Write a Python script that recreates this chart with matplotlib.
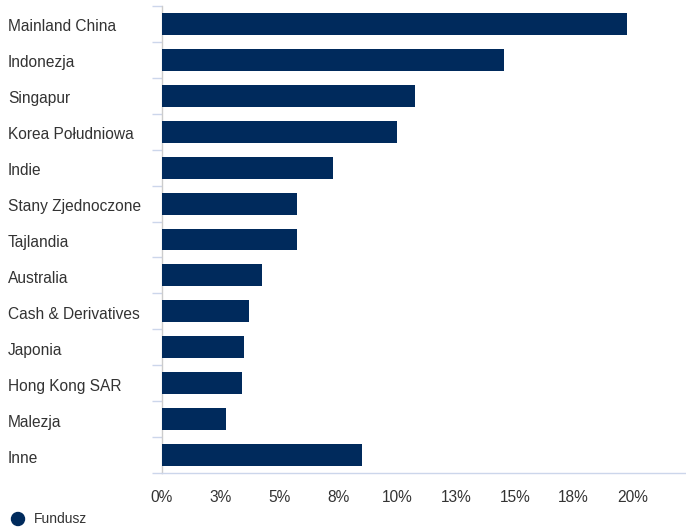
import numpy as np
import matplotlib
matplotlib.use("Agg")
import matplotlib.pyplot as plt
import matplotlib.transforms as mtransforms
from matplotlib.ticker import FixedLocator, FuncFormatter

plt.rcParams['font.family'] = ['Liberation Sans', 'DejaVu Sans']

# data
countries = ["Mainland China", "Indonezja", "Singapur", "Korea Południowa", "Indie",
             "Stany Zjednoczone", "Tajlandia", "Australia", "Cash & Derivatives",
             "Japonia", "Hong Kong SAR", "Malezja", "Inne"]
weights = [19.75, 14.53, 10.76, 9.99, 7.28, 5.75, 5.75, 4.26, 3.71, 3.50, 3.42, 2.74, 8.50]
x_ticks = [0, 2.5, 5, 7.5, 10, 12.5, 15, 17.5, 20]
series_name = "Fundusz"

bar_color = "#002a5c"
text_color = "#333333"
grid_color = "#ccd6eb"

fig = plt.figure(figsize=(6.86, 5.28), dpi=100)
ax = fig.add_axes([161.5/686, 55/528, 1 - 161.5/686, (473 - 6)/528])

pos = np.arange(len(countries))
ax.barh(pos, weights, height=0.61, color=bar_color, zorder=3)

ax.set_ylim(len(countries) - 0.5, -0.5)
ax.set_xlim(0, 22.27)

# labels at bar centres, tick marks at row boundaries
ax.set_yticks(pos)
ax.set_yticklabels(countries)
ax.yaxis.set_minor_locator(FixedLocator(np.arange(len(countries) + 1) - 0.5))
ax.tick_params(axis="y", which="major", length=0, pad=(161.5 - 8) * 0.72,
               labelsize=11.2, labelcolor=text_color)
ax.tick_params(axis="y", which="minor", length=7.5, width=1, color=grid_color)
shift = mtransforms.ScaledTranslation(0, -1.5 / 100, fig.dpi_scale_trans)
for lab in ax.get_yticklabels():
    lab.set_horizontalalignment("left")
    lab.set_transform(lab.get_transform() + shift)

ax.set_xticks(x_ticks)
ax.xaxis.set_major_formatter(FuncFormatter(lambda v, p: "%d%%" % round(v + 0.01)))
ax.tick_params(axis="x", length=0, pad=12, labelsize=11.2, labelcolor=text_color)

for s in ["top", "right"]:
    ax.spines[s].set_visible(False)
ax.spines["left"].set_color("#cccccc")
ax.spines["left"].set_linewidth(1)
ax.spines["bottom"].set_color(grid_color)
ax.spines["bottom"].set_linewidth(1)

# legend at the bottom left
fig.text(34/686, 1 - 519/528, series_name, fontsize=10, color=text_color,
         va="center", ha="left")
fig.add_artist(matplotlib.patches.Ellipse((18/686, 1 - 519/528), 13/686, 13/528,
                                          transform=fig.transFigure, color=bar_color))

fig.savefig("out.png", dpi=100)
